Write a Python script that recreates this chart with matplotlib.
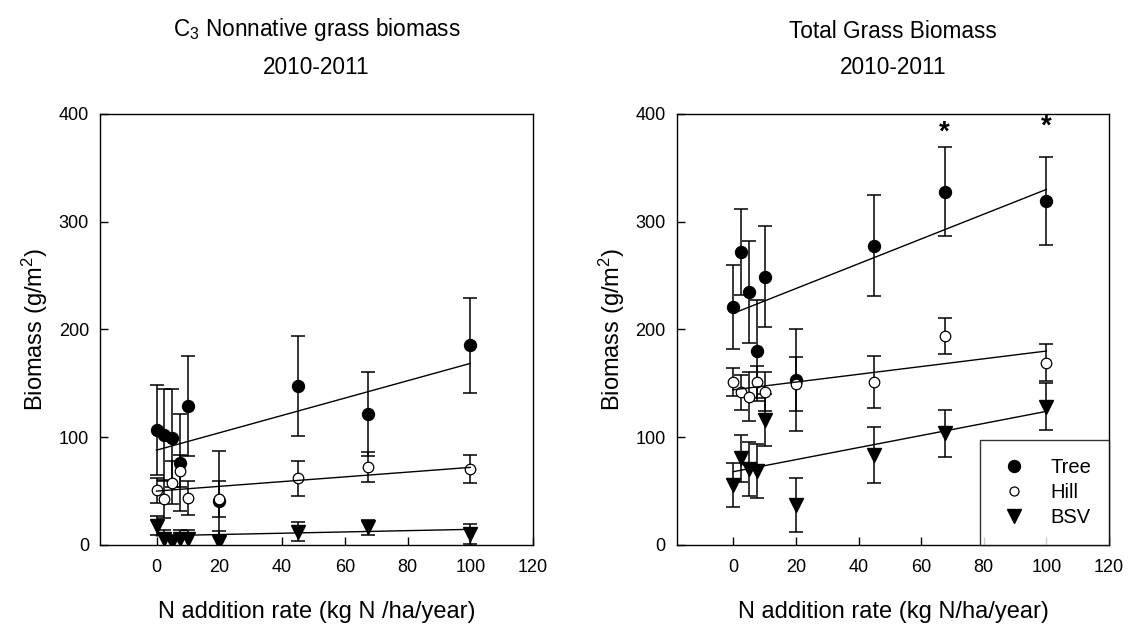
import matplotlib
matplotlib.use("Agg")
import matplotlib.pyplot as plt
from matplotlib.lines import Line2D
import numpy as np

plt.rcParams['font.family'] = ['Liberation Sans', 'DejaVu Sans']
plt.rcParams['mathtext.fontset'] = 'custom'
plt.rcParams['mathtext.rm'] = 'Liberation Sans'
plt.rcParams['mathtext.it'] = 'Liberation Sans'

# N addition rates (kg N/ha/year)
nrate = [0, 2.5, 5, 7.5, 10, 20, 45, 67.5, 100]

# C3 nonnative grass biomass (g/m2), mean and standard error
c3_tree = [106.7, 102, 99.6, 76.4, 129, 41, 147.6, 121.3, 185.5]
c3_tree_se = [42, 43, 45.5, 45, 46, 46, 46, 39, 44]
c3_hill = [50.6, 42.7, 57.8, 68.4, 43.6, 42.7, 61.9, 72.7, 70.5]
c3_hill_se = [12, 18, 20, 15, 16, 17, 16, 14, 13]
c3_bsv = [18, 6, 3, 6, 6, 3, 12.4, 16.4, 10.2]
c3_bsv_se = [9, 8, 6, 8, 8, 10, 8.5, 7, 9]

# Total grass biomass (g/m2), mean and standard error
tot_tree = [221, 272, 234.8, 180.3, 249, 153, 277.8, 328, 319.5]
tot_tree_se = [39, 40, 47, 47, 47, 47, 47, 41, 41]
tot_hill = [151.6, 141.7, 137.7, 151, 142.3, 149.4, 151, 194, 169.2]
tot_hill_se = [13, 16, 23, 15, 18, 25, 24, 17, 17]
tot_bsv = [55.7, 80.5, 70.3, 69, 116, 37, 83.5, 103.6, 128.4]
tot_bsv_se = [20, 22, 25, 25, 24, 25, 26, 22, 22]

# Linear regression fits (intercept, slope) per site
c3_fit_intercept = [88.0, 50.0, 8.5]
c3_fit_slope = [0.805, 0.22, 0.06]
tot_fit_intercept = [215.0, 144.0, 68.0]
tot_fit_slope = [1.15, 0.36, 0.56]

sites = ['Tree', 'Hill', 'BSV']

# significance stars: N rate and height of the star centre (g/m2)
signif_rates = [67.5, 100]
signif_star_y = [388, 394]

xticks = [0, 20, 40, 60, 80, 100, 120]
yticks = [0, 100, 200, 300, 400]

marker_styles = {
    'Tree': dict(marker='o', mfc='black', mec='black', ms=8.6),
    'Hill': dict(marker='o', mfc='white', mec='black', ms=7.6, mew=0.9),
    'BSV': dict(marker='v', mfc='black', mec='black', ms=9.5),
}

fig = plt.figure(figsize=(11.29, 6.28), dpi=100)
ax1 = fig.add_axes([0.0886, 0.1322, 0.3835, 0.6863])
ax2 = fig.add_axes([0.5996, 0.1322, 0.3827, 0.6863])


def draw_panel(ax, means, ses, intercepts, slopes, xlabel):
    x = np.array(nrate)
    for m, s in zip(means, ses):
        ax.errorbar(x, m, yerr=s, fmt='none', ecolor='black',
                    elinewidth=1.1, capsize=5, capthick=1.1, zorder=2)
    for site, m in zip(sites, means):
        ax.plot(x, m, linestyle='none', zorder=3, **marker_styles[site])
    xf = np.array([0, 100])
    for b0, b1 in zip(intercepts, slopes):
        ax.plot(xf, b0 + b1 * xf, color='black', lw=1.0, zorder=4)
    ax.set_xlim(-18, 120)
    ax.set_ylim(0, 400)
    ax.set_xticks(xticks)
    ax.set_yticks(yticks)
    ax.tick_params(direction='in', length=6, width=1, labelsize=13)
    ax.tick_params(axis='x', pad=10)
    ax.tick_params(axis='y', pad=8)
    for sp in ax.spines.values():
        sp.set_linewidth(1.0)
    ax.set_xlabel(xlabel, fontsize=17, labelpad=18)
    ax.set_ylabel('Biomass (g/m$^2$)', fontsize=17, labelpad=6)


draw_panel(ax1, [c3_tree, c3_hill, c3_bsv], [c3_tree_se, c3_hill_se, c3_bsv_se],
           c3_fit_intercept, c3_fit_slope, 'N addition rate (kg N /ha/year)')
draw_panel(ax2, [tot_tree, tot_hill, tot_bsv], [tot_tree_se, tot_hill_se, tot_bsv_se],
           tot_fit_intercept, tot_fit_slope, 'N addition rate (kg N/ha/year)')

ax1.set_title('C$_3$ Nonnative grass biomass\n2010-2011', fontsize=16.3,
              linespacing=1.7, pad=29)
ax2.set_title('Total Grass Biomass\n2010-2011', fontsize=16.3,
              linespacing=1.7, pad=29)

# the '*' glyph sits high in its line box, so shift the anchor down
for r, ys in zip(signif_rates, signif_star_y):
    ax2.text(r, ys - 17.5, '*', ha='center', va='bottom',
             fontsize=20, fontweight='bold')

handles = [Line2D([], [], linestyle='none', **marker_styles['Tree']),
           Line2D([], [], linestyle='none', **dict(marker_styles['Hill'], ms=6.5)),
           Line2D([], [], linestyle='none', **marker_styles['BSV'])]
leg = ax2.legend(handles, sites, loc='lower right', borderaxespad=0,
                 fontsize=14.5, frameon=True, fancybox=False, edgecolor='black',
                 handletextpad=1.0, labelspacing=0.3, borderpad=0.9,
                 handlelength=1.6)
leg.get_frame().set_linewidth(1.0)
leg.set_zorder(6)

fig.savefig('out.png', dpi=100)
